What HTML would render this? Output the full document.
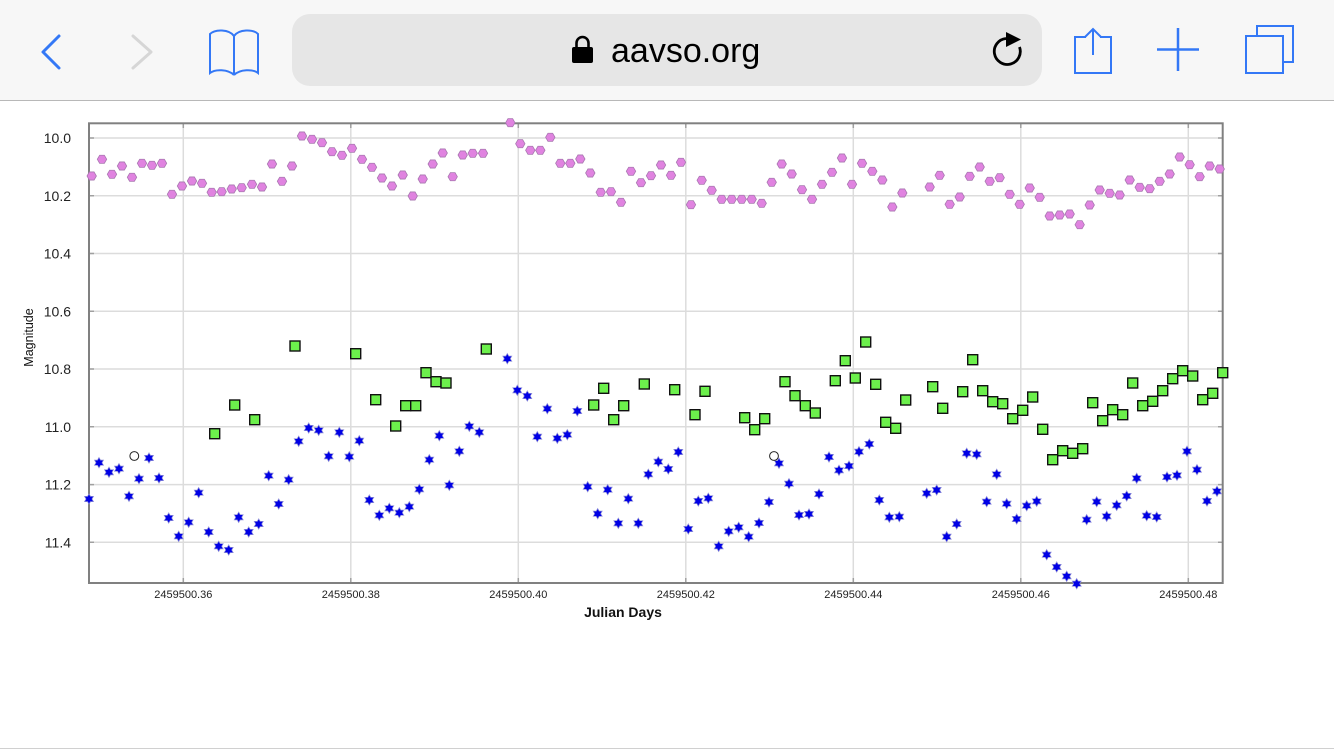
<!DOCTYPE html>
<html><head><meta charset="utf-8"><style>
html,body{margin:0;padding:0;background:#fff;width:1334px;height:750px;overflow:hidden}
svg{display:block}
</style></head><body>
<svg width="1334" height="750" viewBox="0 0 1334 750" xmlns="http://www.w3.org/2000/svg">
<defs>
<polygon id="h" points="4.7,0 2.35,4.07 -2.35,4.07 -4.7,0 -2.35,-4.07 2.35,-4.07" fill="#e083e0" stroke="#a878b0" stroke-width="0.8"/>
<polygon id="s" points="0,-5.2 1.5,-2.6 4.5,-2.6 3,0 4.5,2.6 1.5,2.6 0,5.2 -1.5,2.6 -4.5,2.6 -3,0 -4.5,-2.6 -1.5,-2.6" fill="#0000e6" stroke="#8c8cd8" stroke-width="0.7"/>
<rect id="g" x="-5" y="-5" width="10" height="10" fill="#6cf04c" stroke="#111" stroke-width="1.4"/>
</defs>
<!-- browser chrome -->
<rect x="0" y="0" width="1334" height="100" fill="#f7f7f7"/>
<rect x="0" y="100" width="1334" height="1" fill="#b8b8b8"/>
<polyline points="59,36 43,52 59,68" fill="none" stroke="#3478f6" stroke-width="3" stroke-linecap="round" stroke-linejoin="round"/>
<polyline points="133,36 151,52 133,68" fill="none" stroke="#d6d6d6" stroke-width="3" stroke-linecap="round" stroke-linejoin="round"/>
<path d="M234,36 C229,29 215,29 210,34 L210,73 C215,69 228,69 234,75 M234,36 C239,29 253,29 258,34 L258,73 C253,69 240,69 234,75 M234,36 V75" fill="none" stroke="#3478f6" stroke-width="2"/>
<rect x="292" y="14" width="750" height="72" rx="18" fill="#e6e6e6"/>
<rect x="572" y="47" width="21" height="16" rx="2" fill="#000"/>
<path d="M576.5,48 V43 a6,6 0 0 1 12,0 V48" fill="none" stroke="#000" stroke-width="2.6"/>
<text x="611" y="62" font-family="Liberation Sans, sans-serif" font-size="34" fill="#000">aavso.org</text>
<path d="M1006,38.5 A13,13 0 1 0 1019.5,47" fill="none" stroke="#000" stroke-width="2.8"/>
<polygon points="1006,32 1021,39.5 1006,47" fill="#000"/>
<path d="M1086,37 H1075 V73 H1111 V37 H1100 M1093,29 V55 M1085,37 L1093,29 L1101,37" fill="none" stroke="#3478f6" stroke-width="2"/>
<path d="M1157,49.5 H1199 M1178,28 V71" fill="none" stroke="#3478f6" stroke-width="2.5"/>
<path d="M1257,36 V26 H1293 V62 H1283" fill="none" stroke="#3478f6" stroke-width="2"/>
<rect x="1246" y="36" width="37" height="37" fill="none" stroke="#3478f6" stroke-width="2"/>
<rect x="0" y="748" width="1334" height="1" fill="#d0d0d0"/>

<!-- grid -->
<g stroke="#dcdcdc" stroke-width="1.5">
<line x1="89" y1="138" x2="1223" y2="138"/>
<line x1="89" y1="195.8" x2="1223" y2="195.8"/>
<line x1="89" y1="253.5" x2="1223" y2="253.5"/>
<line x1="89" y1="311.3" x2="1223" y2="311.3"/>
<line x1="89" y1="369" x2="1223" y2="369"/>
<line x1="89" y1="426.8" x2="1223" y2="426.8"/>
<line x1="89" y1="484.6" x2="1223" y2="484.6"/>
<line x1="89" y1="542.3" x2="1223" y2="542.3"/>
<line x1="183.3" y1="123" x2="183.3" y2="583"/>
<line x1="350.8" y1="123" x2="350.8" y2="583"/>
<line x1="518.3" y1="123" x2="518.3" y2="583"/>
<line x1="685.8" y1="123" x2="685.8" y2="583"/>
<line x1="853.3" y1="123" x2="853.3" y2="583"/>
<line x1="1020.8" y1="123" x2="1020.8" y2="583"/>
<line x1="1188.3" y1="123" x2="1188.3" y2="583"/>
</g>
<g stroke="#a0a0a0" stroke-width="1.5">
<path d="M89,138h5M89,195.8h5M89,253.5h5M89,311.3h5M89,369h5M89,426.8h5M89,484.6h5M89,542.3h5"/>
<path d="M1223,138h-5M1223,195.8h-5M1223,253.5h-5M1223,311.3h-5M1223,369h-5M1223,426.8h-5M1223,484.6h-5M1223,542.3h-5"/>
<path d="M183.3,583v-5M350.8,583v-5M518.3,583v-5M685.8,583v-5M853.3,583v-5M1020.8,583v-5M1188.3,583v-5"/>
<path d="M183.3,123v5M350.8,123v5M518.3,123v5M685.8,123v5M853.3,123v5M1020.8,123v5M1188.3,123v5"/>
</g>
<rect x="89" y="123.3" width="1133.7" height="459.7" fill="none" stroke="#808080" stroke-width="2"/>

<!-- axis labels -->
<g font-family="Liberation Sans, sans-serif" font-size="14" fill="#222" text-anchor="end">
<text x="71" y="143">10.0</text>
<text x="71" y="200.8">10.2</text>
<text x="71" y="258.5">10.4</text>
<text x="71" y="316.3">10.6</text>
<text x="71" y="374">10.8</text>
<text x="71" y="431.8">11.0</text>
<text x="71" y="489.6">11.2</text>
<text x="71" y="547.3">11.4</text>
</g>
<g font-family="Liberation Sans, sans-serif" font-size="11" fill="#222" text-anchor="middle">
<text x="183.3" y="598">2459500.36</text>
<text x="350.8" y="598">2459500.38</text>
<text x="518.3" y="598">2459500.40</text>
<text x="685.8" y="598">2459500.42</text>
<text x="853.3" y="598">2459500.44</text>
<text x="1020.8" y="598">2459500.46</text>
<text x="1188.3" y="598">2459500.48</text>
</g>
<text x="623" y="617" font-family="Liberation Sans, sans-serif" font-size="14" font-weight="bold" fill="#111" text-anchor="middle">Julian Days</text>
<text transform="translate(33,337.5) rotate(-90)" font-family="Liberation Sans, sans-serif" font-size="12.5" fill="#111" text-anchor="middle">Magnitude</text>

<!-- pink hexagons -->
<g>
<use href="#h" x="91.7" y="176"/><use href="#h" x="102" y="159.3"/><use href="#h" x="112" y="174.3"/><use href="#h" x="122" y="166"/><use href="#h" x="132" y="177.3"/><use href="#h" x="142" y="163.3"/><use href="#h" x="152" y="165.3"/><use href="#h" x="162" y="163.3"/><use href="#h" x="172" y="194.3"/><use href="#h" x="182" y="186"/><use href="#h" x="192" y="181"/><use href="#h" x="202" y="183.3"/><use href="#h" x="211.7" y="192.3"/><use href="#h" x="221.7" y="191.7"/><use href="#h" x="231.7" y="189"/><use href="#h" x="241.7" y="187.7"/><use href="#h" x="252" y="184.3"/><use href="#h" x="262" y="187"/><use href="#h" x="272" y="164"/><use href="#h" x="282" y="181.3"/><use href="#h" x="292" y="166"/><use href="#h" x="302" y="136"/><use href="#h" x="312" y="139.3"/><use href="#h" x="322" y="142.7"/><use href="#h" x="332" y="151.7"/><use href="#h" x="342" y="155.3"/><use href="#h" x="352" y="148.3"/><use href="#h" x="362" y="159.3"/><use href="#h" x="372" y="167.3"/><use href="#h" x="382" y="178"/><use href="#h" x="392" y="186"/><use href="#h" x="402.7" y="175"/><use href="#h" x="412.7" y="196"/><use href="#h" x="422.7" y="179"/><use href="#h" x="432.7" y="164"/><use href="#h" x="442.7" y="153"/><use href="#h" x="452.7" y="176.7"/><use href="#h" x="462.7" y="155"/><use href="#h" x="472.7" y="153.3"/><use href="#h" x="483" y="153.3"/><use href="#h" x="510.3" y="122.7"/><use href="#h" x="520.3" y="143.7"/><use href="#h" x="530.3" y="150.3"/><use href="#h" x="540.3" y="150.3"/><use href="#h" x="550.3" y="137.3"/><use href="#h" x="560.3" y="163.3"/><use href="#h" x="570.3" y="163.3"/><use href="#h" x="580.3" y="159"/><use href="#h" x="590.3" y="173"/><use href="#h" x="600.7" y="192.3"/><use href="#h" x="611" y="191.7"/><use href="#h" x="621" y="202.3"/><use href="#h" x="631" y="171.3"/><use href="#h" x="641" y="182.7"/><use href="#h" x="651" y="175.7"/><use href="#h" x="661" y="165"/><use href="#h" x="671" y="175.3"/><use href="#h" x="681" y="162.3"/><use href="#h" x="691" y="204.7"/><use href="#h" x="701.7" y="180.3"/><use href="#h" x="711.7" y="190.3"/><use href="#h" x="721.7" y="199.3"/><use href="#h" x="731.7" y="199.3"/><use href="#h" x="741.7" y="199.3"/><use href="#h" x="751.7" y="199.3"/><use href="#h" x="761.7" y="203.3"/><use href="#h" x="771.7" y="182.3"/><use href="#h" x="781.7" y="164"/><use href="#h" x="791.7" y="174"/><use href="#h" x="802" y="189.7"/><use href="#h" x="812" y="199.3"/><use href="#h" x="822" y="184.3"/><use href="#h" x="832" y="172.3"/><use href="#h" x="842" y="158"/><use href="#h" x="852" y="184.3"/><use href="#h" x="862" y="163.3"/><use href="#h" x="872.3" y="171.3"/><use href="#h" x="882.3" y="180"/><use href="#h" x="892.3" y="207"/><use href="#h" x="902.3" y="193"/><use href="#h" x="929.7" y="187"/><use href="#h" x="939.7" y="175.3"/><use href="#h" x="949.7" y="204.3"/><use href="#h" x="959.7" y="197"/><use href="#h" x="969.7" y="176.3"/><use href="#h" x="979.7" y="167"/><use href="#h" x="989.7" y="181.3"/><use href="#h" x="999.7" y="177.7"/><use href="#h" x="1009.7" y="194.3"/><use href="#h" x="1019.7" y="204.3"/><use href="#h" x="1029.7" y="188"/><use href="#h" x="1039.7" y="197.3"/><use href="#h" x="1049.7" y="216"/><use href="#h" x="1059.7" y="215"/><use href="#h" x="1069.7" y="214"/><use href="#h" x="1079.7" y="224.7"/><use href="#h" x="1089.7" y="205"/><use href="#h" x="1099.7" y="190"/><use href="#h" x="1109.7" y="193.3"/><use href="#h" x="1119.7" y="195"/><use href="#h" x="1129.7" y="180"/><use href="#h" x="1139.7" y="187.3"/><use href="#h" x="1149.7" y="188.7"/><use href="#h" x="1159.7" y="181.3"/><use href="#h" x="1169.7" y="174"/><use href="#h" x="1179.7" y="157"/><use href="#h" x="1189.7" y="164.7"/><use href="#h" x="1199.7" y="176.7"/><use href="#h" x="1209.7" y="166"/><use href="#h" x="1219.7" y="169"/>
</g>

<!-- green squares -->
<g>
<use href="#g" x="214.7" y="433.7"/><use href="#g" x="234.7" y="405"/><use href="#g" x="254.7" y="419.7"/><use href="#g" x="295" y="346"/><use href="#g" x="355.7" y="353.7"/><use href="#g" x="375.7" y="399.7"/><use href="#g" x="395.7" y="426"/><use href="#g" x="405.7" y="405.7"/><use href="#g" x="415.7" y="405.7"/><use href="#g" x="426" y="372.7"/><use href="#g" x="436" y="381.7"/><use href="#g" x="446" y="383"/><use href="#g" x="486.3" y="349"/><use href="#g" x="593.7" y="405"/><use href="#g" x="603.7" y="388.3"/><use href="#g" x="613.7" y="419.7"/><use href="#g" x="623.7" y="405.7"/><use href="#g" x="644.3" y="384"/><use href="#g" x="674.7" y="389.7"/><use href="#g" x="695" y="414.7"/><use href="#g" x="705" y="391.3"/><use href="#g" x="744.7" y="417.7"/><use href="#g" x="754.7" y="429.7"/><use href="#g" x="764.7" y="418.7"/><use href="#g" x="785" y="381.7"/><use href="#g" x="795" y="395.7"/><use href="#g" x="805.3" y="405.7"/><use href="#g" x="815.3" y="413"/><use href="#g" x="835.3" y="380.7"/><use href="#g" x="845.3" y="360.7"/><use href="#g" x="855.3" y="378"/><use href="#g" x="865.7" y="342"/><use href="#g" x="875.7" y="384.3"/><use href="#g" x="885.7" y="422.3"/><use href="#g" x="895.7" y="428.3"/><use href="#g" x="905.7" y="400"/><use href="#g" x="932.7" y="386.7"/><use href="#g" x="942.7" y="408.3"/><use href="#g" x="962.7" y="391.7"/><use href="#g" x="972.7" y="359.7"/><use href="#g" x="982.7" y="390.7"/><use href="#g" x="992.7" y="401.7"/><use href="#g" x="1002.7" y="403.7"/><use href="#g" x="1012.7" y="418.7"/><use href="#g" x="1022.7" y="410.3"/><use href="#g" x="1032.7" y="397"/><use href="#g" x="1042.7" y="429.3"/><use href="#g" x="1052.7" y="459.7"/><use href="#g" x="1062.7" y="450.7"/><use href="#g" x="1072.7" y="453.3"/><use href="#g" x="1082.7" y="448.7"/><use href="#g" x="1092.7" y="402.7"/><use href="#g" x="1102.7" y="420.7"/><use href="#g" x="1112.7" y="409.7"/><use href="#g" x="1122.7" y="414.7"/><use href="#g" x="1132.7" y="383"/><use href="#g" x="1142.7" y="405.7"/><use href="#g" x="1152.7" y="401.3"/><use href="#g" x="1162.7" y="390.7"/><use href="#g" x="1172.7" y="378.7"/><use href="#g" x="1182.7" y="370.7"/><use href="#g" x="1192.7" y="376"/><use href="#g" x="1202.7" y="399.7"/><use href="#g" x="1212.7" y="393.3"/><use href="#g" x="1222.7" y="372.7"/>
</g>

<!-- blue stars -->
<g>
<use href="#s" x="89" y="499"/><use href="#s" x="99" y="462.7"/><use href="#s" x="109" y="472.3"/><use href="#s" x="119" y="468.7"/><use href="#s" x="129" y="496.3"/><use href="#s" x="139" y="478.7"/><use href="#s" x="149" y="458"/><use href="#s" x="159" y="478"/><use href="#s" x="168.7" y="518"/><use href="#s" x="178.7" y="536.3"/><use href="#s" x="188.7" y="522.3"/><use href="#s" x="198.7" y="492.7"/><use href="#s" x="208.7" y="532"/><use href="#s" x="218.7" y="546.3"/><use href="#s" x="228.7" y="550"/><use href="#s" x="238.7" y="517.3"/><use href="#s" x="248.7" y="532"/><use href="#s" x="258.7" y="524"/><use href="#s" x="268.7" y="475.7"/><use href="#s" x="278.7" y="504"/><use href="#s" x="288.7" y="479.7"/><use href="#s" x="298.7" y="441.3"/><use href="#s" x="308.7" y="428"/><use href="#s" x="318.7" y="430.3"/><use href="#s" x="328.7" y="456.3"/><use href="#s" x="339.3" y="432.3"/><use href="#s" x="349.3" y="456.7"/><use href="#s" x="359.3" y="440.7"/><use href="#s" x="369.3" y="500"/><use href="#s" x="379.3" y="515.3"/><use href="#s" x="389.3" y="508.3"/><use href="#s" x="399.3" y="512.7"/><use href="#s" x="409.3" y="506.7"/><use href="#s" x="419.3" y="489.3"/><use href="#s" x="429.3" y="459.7"/><use href="#s" x="439.3" y="435.7"/><use href="#s" x="449.3" y="485.3"/><use href="#s" x="459.3" y="451.3"/><use href="#s" x="469.3" y="426.3"/><use href="#s" x="479.3" y="432.3"/><use href="#s" x="507.3" y="358.7"/><use href="#s" x="517.3" y="390.3"/><use href="#s" x="527.3" y="396"/><use href="#s" x="537.3" y="436.7"/><use href="#s" x="547.3" y="408.7"/><use href="#s" x="557.3" y="438.3"/><use href="#s" x="567.3" y="434.7"/><use href="#s" x="577.3" y="411"/><use href="#s" x="587.7" y="486.7"/><use href="#s" x="597.7" y="513.7"/><use href="#s" x="607.7" y="489.7"/><use href="#s" x="618.3" y="523.3"/><use href="#s" x="628.3" y="498.7"/><use href="#s" x="638.3" y="523.3"/><use href="#s" x="648.3" y="474.3"/><use href="#s" x="658.3" y="461.7"/><use href="#s" x="668.3" y="469"/><use href="#s" x="678.3" y="452"/><use href="#s" x="688.3" y="529"/><use href="#s" x="698.3" y="501"/><use href="#s" x="708.3" y="498.3"/><use href="#s" x="718.7" y="546.3"/><use href="#s" x="728.7" y="531.3"/><use href="#s" x="738.7" y="527.3"/><use href="#s" x="748.7" y="536.7"/><use href="#s" x="759" y="523"/><use href="#s" x="769" y="502"/><use href="#s" x="779" y="463.3"/><use href="#s" x="789" y="483.7"/><use href="#s" x="799" y="515"/><use href="#s" x="809" y="514"/><use href="#s" x="819" y="494"/><use href="#s" x="829" y="457"/><use href="#s" x="839" y="470.3"/><use href="#s" x="849" y="466"/><use href="#s" x="859" y="451.7"/><use href="#s" x="869.3" y="444"/><use href="#s" x="879.3" y="500"/><use href="#s" x="889.3" y="517.3"/><use href="#s" x="899.3" y="516.7"/><use href="#s" x="926.7" y="493.3"/><use href="#s" x="936.7" y="490"/><use href="#s" x="946.7" y="536.7"/><use href="#s" x="956.7" y="524"/><use href="#s" x="966.7" y="453.3"/><use href="#s" x="976.7" y="454.3"/><use href="#s" x="986.7" y="501.7"/><use href="#s" x="996.7" y="474.3"/><use href="#s" x="1006.7" y="503.7"/><use href="#s" x="1016.7" y="519"/><use href="#s" x="1026.7" y="505.7"/><use href="#s" x="1036.7" y="501.3"/><use href="#s" x="1046.7" y="554.7"/><use href="#s" x="1056.7" y="567"/><use href="#s" x="1066.7" y="576.3"/><use href="#s" x="1076.7" y="583.7"/><use href="#s" x="1086.7" y="519.7"/><use href="#s" x="1096.7" y="501.7"/><use href="#s" x="1106.7" y="516.3"/><use href="#s" x="1116.7" y="505.3"/><use href="#s" x="1126.7" y="496"/><use href="#s" x="1136.7" y="478.3"/><use href="#s" x="1146.7" y="515.7"/><use href="#s" x="1156.7" y="517"/><use href="#s" x="1167" y="477"/><use href="#s" x="1177" y="475.3"/><use href="#s" x="1187" y="451.3"/><use href="#s" x="1197" y="469.7"/><use href="#s" x="1207" y="501"/><use href="#s" x="1217" y="491.3"/>
</g>

<!-- open circles -->
<circle cx="134.3" cy="456" r="4.4" fill="#fff" stroke="#222" stroke-width="1"/>
<circle cx="774" cy="456" r="4.4" fill="#fff" stroke="#222" stroke-width="1"/>
</svg>
</body></html>
